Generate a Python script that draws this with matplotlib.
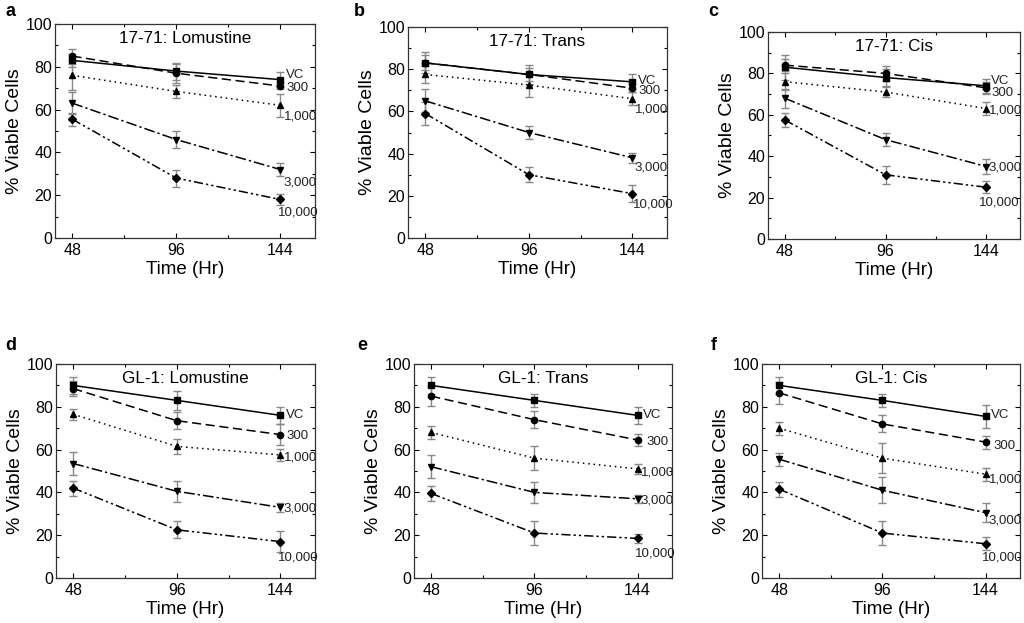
import matplotlib.pyplot as plt
from matplotlib.ticker import MultipleLocator

plt.rcParams['font.family'] = ['Liberation Sans', 'DejaVu Sans']

hours = [48, 96, 144]
doses = ["VC", "300", "1,000", "3,000", "10,000"]

panel_letters = ["a", "b", "c", "d", "e", "f"]
panel_titles = ["17-71: Lomustine", "17-71: Trans", "17-71: Cis",
                "GL-1: Lomustine", "GL-1: Trans", "GL-1: Cis"]

# viable cells (%) per panel, one row per dose (VC, 300, 1000, 3000, 10000)
viable_a = [[83, 78, 74], [85, 77, 71], [76, 68.5, 62], [63, 46, 32], [55.5, 28, 18]]
viable_b = [[83, 77.5, 74], [83, 77.5, 71], [77.5, 72.5, 66], [65, 50, 38], [59, 30, 21]]
viable_c = [[83, 78, 74], [84, 80, 73], [76, 71, 63], [68, 48, 35], [57.5, 31, 25]]
viable_d = [[90, 83, 76], [88.5, 73.5, 67], [76.5, 61.5, 57.5], [53.5, 40.5, 33], [42, 22.5, 17]]
viable_e = [[90, 83, 76], [85, 74, 64.5], [68, 56, 51], [52, 40, 37], [39.5, 21, 18.5]]
viable_f = [[90, 83, 75.5], [86.5, 72, 63.5], [70, 56, 48.5], [55.5, 41, 30.5], [41.5, 21, 16]]

# standard deviations, same layout
err_a = [[3, 4, 3.5], [3.5, 4.5, 1.5], [7, 3, 5.5], [5, 4, 3], [3, 4, 2.5]]
err_b = [[5, 4.5, 3.5], [3.5, 3, 2], [4, 5.5, 3], [5.5, 3, 2.5], [5.5, 3.5, 4]]
err_c = [[6, 4, 3.5], [3, 3.5, 3], [4, 2.5, 3], [4.5, 3, 3.5], [3.5, 4.5, 3]]
err_d = [[4, 4.5, 4], [3.5, 4, 5], [2.5, 3.5, 3], [5.5, 5, 2], [3.5, 4, 5]]
err_e = [[4, 3, 4], [4.5, 4, 3], [3, 5.5, 2.5], [5.5, 5, 2], [3.5, 5.5, 2]]
err_f = [[4, 3, 5.5], [5, 4, 3], [3, 7, 3], [3, 6, 4.5], [3.5, 5.5, 3]]

panel_values = [viable_a, viable_b, viable_c, viable_d, viable_e, viable_f]
panel_errors = [err_a, err_b, err_c, err_d, err_e, err_f]

# where the dose labels sit (data units)
label_y = [[76, 70, 57, 26, 12],
           [74.5, 69.5, 61, 33.5, 16],
           [76.5, 70.5, 62, 34.5, 17.5],
           [76, 66.5, 56.5, 32.5, 9.5],
           [76, 63.5, 49.5, 36, 11.5],
           [76, 61.5, 46, 27, 9.5]]
label_x = [[146.5, 147, 145.5, 145.5, 143],
           [146.5, 147, 145, 145, 144],
           [146, 146.5, 145, 145, 140.5],
           [146.5, 147, 145.5, 145.5, 143],
           [146.5, 148, 145.5, 145.5, 143],
           [146.5, 147.5, 145.5, 145.5, 142.5]]

line_styles = ['-', (0, (6, 3)), (0, (1, 2.5)), (0, (7, 2, 1.5, 2)), (0, (6, 2, 1.5, 2, 1.5, 2))]
markers = ['s', 'o', '^', 'v', 'D']
marker_sizes = [4.5, 4.5, 4.5, 4.5, 4]

# axes boxes in pixels: left, right, top, bottom
boxes = [(55, 315, 24, 238), (408, 667, 27, 238), (768, 1020, 32, 239),
         (56, 315, 364, 578), (414, 672, 364, 578), (762, 1020, 364, 578)]
letter_pos = [(5, 12), (354, 12), (708, 12), (5, 345), (357, 345), (711, 345)]

W, H = 1024, 623
fig = plt.figure(figsize=(W / 100, H / 100), dpi=100)

for k in range(6):
    l, r, t, b = boxes[k]
    ax = fig.add_axes([l / W, 1 - b / H, (r - l) / W, (b - t) / H])
    for i in range(5):
        ax.errorbar(hours, panel_values[k][i], yerr=panel_errors[k][i],
                    fmt='none', ecolor='#888888', elinewidth=1, capsize=3, capthick=1, zorder=2)
        ax.plot(hours, panel_values[k][i], linestyle=line_styles[i], color='black', lw=1.1,
                marker=markers[i], ms=marker_sizes[i], zorder=3)
        ax.text(label_x[k][i], label_y[k][i], doses[i], fontsize=9.5, va='center', ha='left',
                color='#222222')
    ax.set_xlim(40, 160)
    ax.set_ylim(0, 100)
    ax.set_xticks(hours)
    ax.xaxis.set_minor_locator(MultipleLocator(24))
    ax.yaxis.set_major_locator(MultipleLocator(20))
    ax.yaxis.set_minor_locator(MultipleLocator(10))
    ax.tick_params(which='both', direction='in', top=True, right=True, labelsize=11.5, width=0.8)
    ax.tick_params(which='major', length=3.5)
    ax.tick_params(which='minor', length=2.5)
    ax.tick_params(axis='y', pad=2)
    for s in ax.spines.values():
        s.set_linewidth(0.9)
        s.set_color('#333333')
    ax.set_xlabel("Time (Hr)", fontsize=13.5, labelpad=2)
    ax.set_ylabel("% Viable Cells", fontsize=14, labelpad=2)
    ax.text(0.5, 0.93, panel_titles[k], transform=ax.transAxes, ha='center', va='center',
            fontsize=12.3)
    lx, ly = letter_pos[k]
    fig.text(lx / W, 1 - ly / H, panel_letters[k], fontsize=13, fontweight='bold',
             ha='left', va='center')

fig.savefig("out.png", dpi=100, facecolor='white')
